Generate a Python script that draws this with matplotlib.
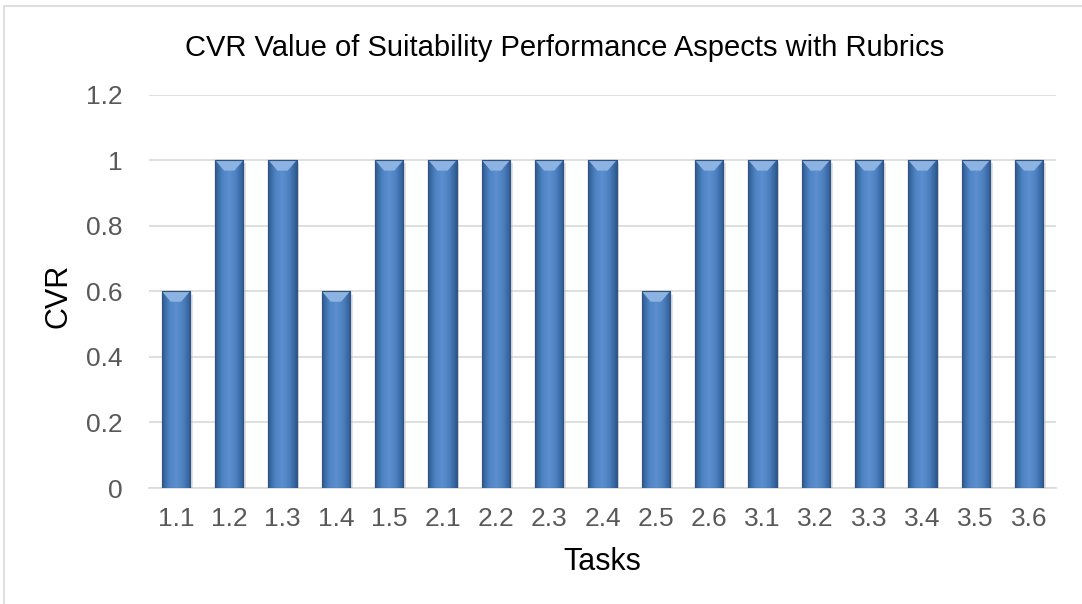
import numpy as np
import matplotlib.pyplot as plt
from matplotlib.patches import Rectangle
from matplotlib.colors import LinearSegmentedColormap

tasks = ["1.1", "1.2", "1.3", "1.4", "1.5", "2.1", "2.2", "2.3", "2.4",
         "2.5", "2.6", "3.1", "3.2", "3.3", "3.4", "3.5", "3.6"]
cvr = [0.6, 1, 1, 0.6, 1, 1, 1, 1, 1, 0.6, 1, 1, 1, 1, 1, 1, 1]
y_ticks = [0, 0.2, 0.4, 0.6, 0.8, 1, 1.2]
y_tick_labels = ['0', '0.2', '0.4', '0.6', '0.8', '1', '1.2']

plt.rcParams['font.family'] = ['Liberation Sans', 'DejaVu Sans']

W, H = 1082, 604
fig = plt.figure(figsize=(W / 100, H / 100), dpi=100)
ax = fig.add_axes([149.3 / W, 1 - 488 / H, 906.4 / W, 393.4 / H])

# outer chart frame
fig.patches.append(Rectangle((4 / W, -0.1), 1.2, 1.1 - 6 / H,
                             transform=fig.transFigure, fill=False,
                             edgecolor='#D9D9D9', linewidth=1.2))

x = np.arange(len(tasks))
bars = ax.bar(x, cvr, width=0.53, color='#4A7EBB', edgecolor='#2F5283',
              linewidth=0.8, zorder=3)

# horizontal bevel gradient on each bar
cmap = LinearSegmentedColormap.from_list(
    'bevel', ['#2E5A8F', '#4E84C4', '#5B8FD0', '#4B7FBE', '#2E5A8F'])
grad = np.linspace(0, 1, 64).reshape(1, -1)
for b in bars:
    x0, w, h = b.get_x(), b.get_width(), b.get_height()
    # soft shadow
    ax.add_patch(Rectangle((x0 + 0.05, -0.01), w, h, facecolor='#BFBFBF',
                           edgecolor='none', alpha=0.45, zorder=2.9))
    im = ax.imshow(grad, cmap=cmap, aspect='auto', extent=[x0, x0 + w, 0, h],
                   zorder=3.5, interpolation='bicubic')
    im.set_clip_path(b)
    # light top bevel
    tri = plt.Polygon([[x0, h], [x0 + w, h], [x0 + w * 0.68, h - 0.032],
                       [x0 + w * 0.32, h - 0.032]], closed=True,
                      facecolor='#8DB3E2', edgecolor='none', zorder=3.6)
    ax.add_patch(tri)
    ax.add_patch(Rectangle((x0, 0), w, h, fill=False, edgecolor='#2F5283',
                           linewidth=0.8, zorder=3.7))

ax.set_xlim(-0.5, len(tasks) - 0.5)
ax.set_ylim(0, 1.2)
ax.set_yticks(y_ticks)
ax.set_yticklabels(y_tick_labels)
ax.set_xticks(x)
ax.set_xticklabels(tasks)
ax.grid(axis='y', color='#D9D9D9', linewidth=1.2, zorder=0)
for s in ['top', 'right', 'left']:
    ax.spines[s].set_visible(False)
ax.spines['bottom'].set_color('#D9D9D9')
ax.spines['bottom'].set_linewidth(1.2)
ax.tick_params(axis='both', length=0, labelsize=19, colors='#595959')
ax.tick_params(axis='x', pad=14)
ax.tick_params(axis='y', pad=19)

fig.text(564.5 / W, 1 - 56 / H,
         'CVR Value of Suitability Performance Aspects with Rubrics',
         fontsize=21, color='#000000', ha='center', va='baseline')
fig.text(602 / W, 1 - 570 / H, 'Tasks', fontsize=22, color='#000000',
         ha='center', va='baseline')
fig.text(58.5 / W, 1 - 296 / H, 'CVR', fontsize=22, color='#000000',
         rotation=90, ha='center', va='center')

fig.savefig('out.png', dpi=100)
